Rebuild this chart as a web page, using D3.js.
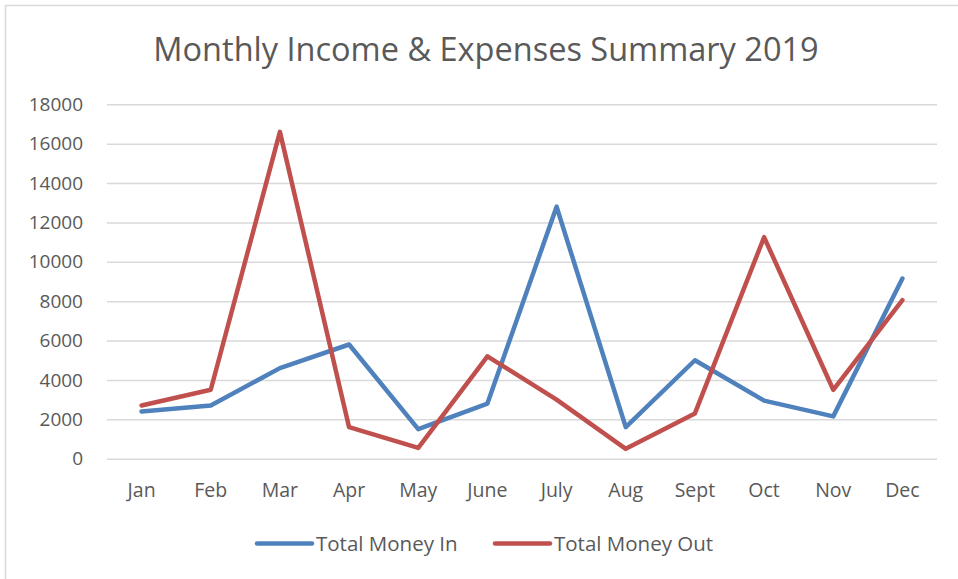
<!DOCTYPE html>
<html>
<head>
<meta charset="utf-8">
<script src="https://cdn.jsdelivr.net/npm/d3@7"></script>
<style>
  html, body { margin: 0; padding: 0; background: #fff; }
  #chart { width: 958px; height: 579px; }
  text { font-family: "Open Sans", sans-serif; fill: #595959; }
</style>
</head>
<body>
<div id="chart"></div>
<script>
const months = ['Jan', 'Feb', 'Mar', 'Apr', 'May', 'June', 'July', 'Aug', 'Sept', 'Oct', 'Nov', 'Dec'];
const moneyIn = [2400, 2700, 4600, 5800, 1500, 2800, 12800, 1600, 5000, 2950, 2150, 9150];
const moneyOut = [2700, 3500, 16600, 1600, 550, 5200, 3000, 500, 2300, 11250, 3500, 8050];
const yTicks = [0, 2000, 4000, 6000, 8000, 10000, 12000, 14000, 16000, 18000];

const series = [
  { name: 'Total Money In', values: moneyIn, color: '#4f81bd' },
  { name: 'Total Money Out', values: moneyOut, color: '#c0504d' }
];

const width = 958, height = 579;
const margin = { top: 104.3, right: 21, bottom: 120.3, left: 107 };
const w = width - margin.left - margin.right;
const h = height - margin.top - margin.bottom;

const svg = d3.select('#chart').append('svg')
  .attr('width', width)
  .attr('height', height);

// chart frame (only top/left edges fall inside the picture)
svg.append('rect')
  .attr('x', 5.5).attr('y', 5.5)
  .attr('width', 980).attr('height', 600)
  .attr('fill', '#fff')
  .attr('stroke', '#d9d9d9')
  .attr('stroke-width', 1.5);

svg.append('text')
  .attr('x', 486).attr('y', 61)
  .attr('text-anchor', 'middle')
  .style('font-size', '32.5px')
  .text('Monthly Income & Expenses Summary 2019');

const g = svg.append('g').attr('transform', `translate(${margin.left},${margin.top})`);

const x = d3.scaleBand().domain(months).range([0, w]).padding(0);
const y = d3.scaleLinear().domain([0, 18000]).range([h, 0]);

const yAxis = g.append('g')
  .call(d3.axisLeft(y).tickValues(yTicks).tickSize(-w).tickPadding(24).tickFormat(d3.format('d')));
yAxis.select('.domain').remove();
yAxis.selectAll('.tick line').attr('stroke', '#d9d9d9').attr('stroke-width', 1.5);
yAxis.selectAll('.tick text').style('font-size', '19px').attr('fill', '#595959');

const xAxis = g.append('g')
  .attr('transform', `translate(0,${h})`)
  .call(d3.axisBottom(x).tickSize(0).tickPadding(24));
xAxis.select('.domain').remove();
xAxis.selectAll('.tick text').style('font-size', '19.5px').attr('fill', '#595959');

const line = d3.line()
  .x((d, i) => x(months[i]) + x.bandwidth() / 2)
  .y(d => y(d));

g.selectAll('.series')
  .data(series)
  .join('path')
  .attr('class', 'series')
  .attr('fill', 'none')
  .attr('stroke', d => d.color)
  .attr('stroke-width', 4.5)
  .attr('stroke-linejoin', 'round')
  .attr('stroke-linecap', 'round')
  .attr('d', d => line(d.values));

// legend
const legendX = [257, 495];
const legend = svg.selectAll('.legend')
  .data(series)
  .join('g')
  .attr('class', 'legend')
  .attr('transform', (d, i) => `translate(${legendX[i]},543.5)`);
legend.append('line')
  .attr('x1', 0).attr('x2', 55)
  .attr('stroke', d => d.color)
  .attr('stroke-width', 4.5)
  .attr('stroke-linecap', 'round');
legend.append('text')
  .attr('x', 59).attr('y', 7.5)
  .style('font-size', '20.5px')
  .text(d => d.name);
</script>
</body>
</html>
